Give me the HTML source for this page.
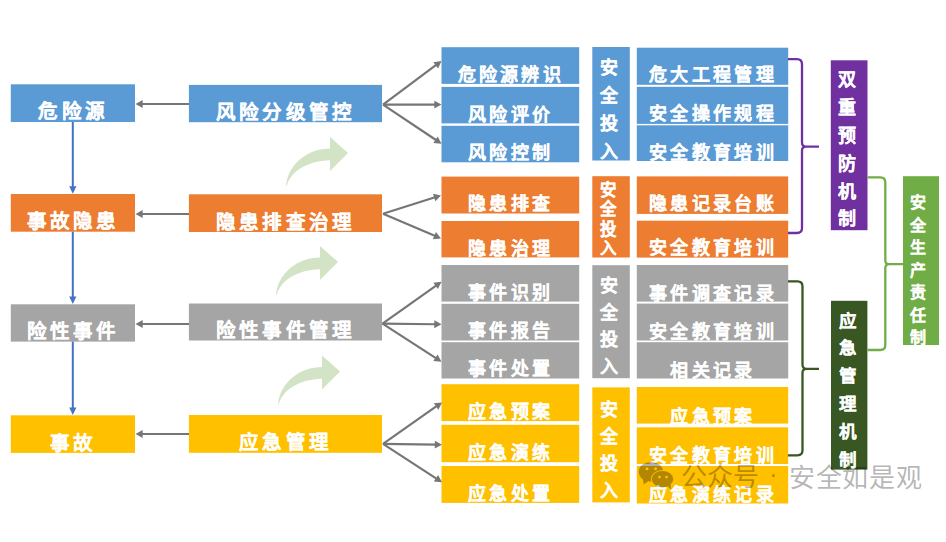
<!DOCTYPE html>
<html lang="zh-CN"><head><meta charset="utf-8"><title>diagram</title>
<style>
html,body{margin:0;padding:0;background:#fff}
body{width:946px;height:542px;position:relative;overflow:hidden;font-family:"Liberation Sans",sans-serif}
.t{position:absolute;width:600px;text-align:center;color:#fff;font-weight:bold;white-space:nowrap;line-height:1;-webkit-text-stroke:0.12px #fff}
.v{position:absolute;width:40px;text-align:center;color:#fff;font-weight:bold;-webkit-text-stroke:0.12px #fff}
.ov{position:absolute;left:0;top:0}
.wm{position:absolute;font-size:26px;line-height:1;color:rgba(0,0,0,0.3);white-space:nowrap}
</style></head><body>
<svg class="ov" width="946" height="542" viewBox="0 0 946 542">
<rect x="10.8" y="84.3" width="124.20" height="37.70" fill="#5b9bd5"/><rect x="10.8" y="194" width="124.20" height="37.70" fill="#ed7d31"/><rect x="10.8" y="304.3" width="124.20" height="37.30" fill="#a5a5a5"/><rect x="10.8" y="415.3" width="124.20" height="37.60" fill="#ffc000"/><rect x="188.9" y="84.9" width="193.10" height="37.30" fill="#5b9bd5"/><rect x="188.9" y="194.3" width="193.10" height="37.70" fill="#ed7d31"/><rect x="188.9" y="303.5" width="193.10" height="37.00" fill="#a5a5a5"/><rect x="188.9" y="415" width="193.10" height="37.80" fill="#ffc000"/><rect x="441.5" y="47.2" width="137.70" height="36.70" fill="#5b9bd5"/><rect x="441.5" y="86.9" width="137.70" height="36.50" fill="#5b9bd5"/><rect x="441.5" y="125.8" width="137.70" height="36.50" fill="#5b9bd5"/><rect x="441.5" y="176.6" width="137.70" height="36.90" fill="#ed7d31"/><rect x="441.5" y="221" width="137.70" height="36.40" fill="#ed7d31"/><rect x="441.5" y="265" width="137.70" height="36.60" fill="#a5a5a5"/><rect x="441.5" y="303.8" width="137.70" height="36.70" fill="#a5a5a5"/><rect x="441.5" y="342.2" width="137.70" height="36.30" fill="#a5a5a5"/><rect x="441.5" y="384.2" width="137.70" height="36.90" fill="#ffc000"/><rect x="441.5" y="424.8" width="137.70" height="37.40" fill="#ffc000"/><rect x="441.5" y="466" width="137.70" height="36.90" fill="#ffc000"/><rect x="592.3" y="47" width="37.50" height="113.50" fill="#5b9bd5"/><rect x="592.3" y="176.2" width="37.50" height="81.30" fill="#ed7d31"/><rect x="592.3" y="265.2" width="37.50" height="113.00" fill="#a5a5a5"/><rect x="592.3" y="387.4" width="37.50" height="115.00" fill="#ffc000"/><rect x="636.8" y="47.7" width="151.40" height="37.10" fill="#5b9bd5"/><rect x="636.8" y="86.8" width="151.40" height="37.10" fill="#5b9bd5"/><rect x="636.8" y="125.3" width="151.40" height="35.70" fill="#5b9bd5"/><rect x="636.8" y="176.4" width="151.40" height="37.50" fill="#ed7d31"/><rect x="636.8" y="220.7" width="151.40" height="36.90" fill="#ed7d31"/><rect x="636.8" y="265" width="151.40" height="36.60" fill="#a5a5a5"/><rect x="636.8" y="303.6" width="151.40" height="36.90" fill="#a5a5a5"/><rect x="636.8" y="342.2" width="151.40" height="36.30" fill="#a5a5a5"/><rect x="636.8" y="387" width="151.40" height="36.60" fill="#ffc000"/><rect x="636.8" y="427.3" width="151.40" height="36.70" fill="#ffc000"/><rect x="636.8" y="466" width="151.40" height="37.50" fill="#ffc000"/><rect x="830.8" y="60.3" width="36.70" height="169.90" fill="#7030a0"/><rect x="831" y="300.8" width="36.40" height="168.80" fill="#385723"/><rect x="903" y="176.2" width="36.00" height="168.80" fill="#70ad47"/>
<line x1="189" y1="104" x2="141.70" y2="104.00" stroke="#767676" stroke-width="2.2"/><polygon points="135.50,104.00 142.70,100.10 142.70,107.90" fill="#767676"/><line x1="189" y1="214" x2="141.70" y2="214.00" stroke="#767676" stroke-width="2.2"/><polygon points="135.50,214.00 142.70,210.10 142.70,217.90" fill="#767676"/><line x1="189" y1="324" x2="141.70" y2="324.00" stroke="#767676" stroke-width="2.2"/><polygon points="135.50,324.00 142.70,320.10 142.70,327.90" fill="#767676"/><line x1="189" y1="434" x2="141.70" y2="434.00" stroke="#767676" stroke-width="2.2"/><polygon points="135.50,434.00 142.70,430.10 142.70,437.90" fill="#767676"/><line x1="72.8" y1="122" x2="72.80" y2="187.30" stroke="#4472c4" stroke-width="2"/><polygon points="72.80,193.80 69.20,186.30 76.40,186.30" fill="#4472c4"/><line x1="72.8" y1="231.7" x2="72.80" y2="297.50" stroke="#4472c4" stroke-width="2"/><polygon points="72.80,304.00 69.20,296.50 76.40,296.50" fill="#4472c4"/><line x1="72.8" y1="341.6" x2="72.80" y2="408.50" stroke="#4472c4" stroke-width="2"/><polygon points="72.80,415.00 69.20,407.50 76.40,407.50" fill="#4472c4"/><line x1="383" y1="104.6" x2="436.53" y2="64.71" stroke="#767676" stroke-width="2.2"/><polygon points="441.50,61.00 438.06,68.43 433.40,62.18" fill="#767676"/><line x1="383" y1="104.6" x2="435.30" y2="104.60" stroke="#767676" stroke-width="2.2"/><polygon points="441.50,104.60 434.30,108.50 434.30,100.70" fill="#767676"/><line x1="383" y1="104.6" x2="436.35" y2="140.25" stroke="#767676" stroke-width="2.2"/><polygon points="441.50,143.70 433.35,142.94 437.68,136.46" fill="#767676"/><line x1="383" y1="213.8" x2="435.09" y2="197.27" stroke="#767676" stroke-width="2.2"/><polygon points="441.00,195.40 435.32,201.29 432.96,193.86" fill="#767676"/><line x1="383" y1="213.8" x2="435.30" y2="236.07" stroke="#767676" stroke-width="2.2"/><polygon points="441.00,238.50 432.85,239.27 435.90,232.09" fill="#767676"/><line x1="382.5" y1="323.7" x2="436.45" y2="285.30" stroke="#767676" stroke-width="2.2"/><polygon points="441.50,281.70 437.90,289.05 433.37,282.70" fill="#767676"/><line x1="382.5" y1="323.7" x2="435.30" y2="324.24" stroke="#767676" stroke-width="2.2"/><polygon points="441.50,324.30 434.26,328.13 434.34,320.33" fill="#767676"/><line x1="382.5" y1="323.7" x2="436.29" y2="358.34" stroke="#767676" stroke-width="2.2"/><polygon points="441.50,361.70 433.34,361.08 437.56,354.52" fill="#767676"/><line x1="383" y1="443.8" x2="436.92" y2="405.96" stroke="#767676" stroke-width="2.2"/><polygon points="442.00,402.40 438.35,409.73 433.87,403.34" fill="#767676"/><line x1="383" y1="443.8" x2="435.80" y2="444.69" stroke="#767676" stroke-width="2.2"/><polygon points="442.00,444.80 434.73,448.58 434.87,440.78" fill="#767676"/><line x1="383" y1="443.8" x2="436.80" y2="478.82" stroke="#767676" stroke-width="2.2"/><polygon points="442.00,482.20 433.84,481.54 438.09,475.00" fill="#767676"/><path transform="translate(286,186)" d="M0,0 C2,-22 22,-37.5 44,-37.5 L44,-49 L62,-33 L44,-15 L44,-25.7 C20,-25 5,-14 1,-1 Z" fill="#d3e3c6"/><path transform="translate(276,295)" d="M0,0 C2,-22 22,-37.5 44,-37.5 L44,-49 L62,-33 L44,-15 L44,-25.7 C20,-25 5,-14 1,-1 Z" fill="#d3e3c6"/><path transform="translate(278,404.4)" d="M0,0 C2,-22 22,-37.5 44,-37.5 L44,-49 L62,-33 L44,-15 L44,-25.7 C20,-25 5,-14 1,-1 Z" fill="#d3e3c6"/><path d="M788,59.2 L797,59.2 Q802,59.2 802,64.2 L802,142.6 Q802,146.6 806,146.6 L819,146.6 M806,146.6 Q802,146.6 802,150.6 L802,228 Q802,233 797,233 L788,233" fill="none" stroke="#7030a0" stroke-width="2.3"/><path d="M788,281.4 L797.5,281.4 Q802.5,281.4 802.5,286.4 L802.5,364.8 Q802.5,368.8 806.5,368.8 L819,368.8 M806.5,368.8 Q802.5,368.8 802.5,372.8 L802.5,450.3 Q802.5,455.3 797.5,455.3 L788,455.3" fill="none" stroke="#385723" stroke-width="2.3"/><path d="M867.5,177.4 L880.3,177.4 Q885.3,177.4 885.3,182.4 L885.3,260.2 Q885.3,264.2 889.3,264.2 L903,264.2 M889.3,264.2 Q885.3,264.2 885.3,268.2 L885.3,345 Q885.3,350 880.3,350 L867.5,350" fill="none" stroke="#70ad47" stroke-width="2.3"/>
</svg>
<div class="t" style="left:-230.00px;top:102.17px;font-size:19.5px;letter-spacing:3.2px;padding-left:3.2px">危险源</div><div class="t" style="left:-230.00px;top:212.17px;font-size:19.5px;letter-spacing:3.2px;padding-left:3.2px">事故隐患</div><div class="t" style="left:-230.00px;top:322.17px;font-size:19.5px;letter-spacing:3.2px;padding-left:3.2px">险性事件</div><div class="t" style="left:-230.00px;top:433.67px;font-size:19.5px;letter-spacing:3.2px;padding-left:3.2px">事故</div><div class="t" style="left:-17.50px;top:103.37px;font-size:19.5px;letter-spacing:3.2px;padding-left:3.2px">风险分级管控</div><div class="t" style="left:-17.50px;top:212.77px;font-size:19.5px;letter-spacing:3.2px;padding-left:3.2px">隐患排查治理</div><div class="t" style="left:-17.50px;top:321.07px;font-size:19.5px;letter-spacing:3.2px;padding-left:3.2px">险性事件管理</div><div class="t" style="left:-17.50px;top:432.77px;font-size:19.5px;letter-spacing:3.2px;padding-left:3.2px">应急管理</div><div class="t" style="left:207.50px;top:66.28px;font-size:18px;letter-spacing:3.3px;padding-left:3.3px">危险源辨识</div><div class="t" style="left:207.50px;top:105.88px;font-size:18px;letter-spacing:3.3px;padding-left:3.3px">风险评价</div><div class="t" style="left:207.50px;top:144.08px;font-size:18px;letter-spacing:3.3px;padding-left:3.3px">风险控制</div><div class="t" style="left:207.50px;top:195.08px;font-size:18px;letter-spacing:3.3px;padding-left:3.3px">隐患排查</div><div class="t" style="left:207.50px;top:239.68px;font-size:18px;letter-spacing:3.3px;padding-left:3.3px">隐患治理</div><div class="t" style="left:207.50px;top:284.08px;font-size:18px;letter-spacing:3.3px;padding-left:3.3px">事件识别</div><div class="t" style="left:207.50px;top:322.08px;font-size:18px;letter-spacing:3.3px;padding-left:3.3px">事件报告</div><div class="t" style="left:207.50px;top:360.38px;font-size:18px;letter-spacing:3.3px;padding-left:3.3px">事件处置</div><div class="t" style="left:207.50px;top:402.98px;font-size:18px;letter-spacing:3.3px;padding-left:3.3px">应急预案</div><div class="t" style="left:207.50px;top:444.28px;font-size:18px;letter-spacing:3.3px;padding-left:3.3px">应急演练</div><div class="t" style="left:207.50px;top:485.08px;font-size:18px;letter-spacing:3.3px;padding-left:3.3px">应急处置</div><div class="v" style="left:588.80px;top:53.78px;font-size:18px;line-height:28px">安<br>全<br>投<br>入</div><div class="v" style="left:588.80px;top:181.24px;font-size:16.5px;line-height:19.2px">安<br>全<br>投<br>入</div><div class="v" style="left:588.80px;top:272.98px;font-size:18px;line-height:27px">安<br>全<br>投<br>入</div><div class="v" style="left:588.80px;top:397.48px;font-size:18px;line-height:27px">安<br>全<br>投<br>入</div><div class="t" style="left:409.70px;top:66.28px;font-size:18px;letter-spacing:3.3px;padding-left:3.3px">危大工程管理</div><div class="t" style="left:409.70px;top:104.58px;font-size:18px;letter-spacing:3.3px;padding-left:3.3px">安全操作规程</div><div class="t" style="left:409.70px;top:144.08px;font-size:18px;letter-spacing:3.3px;padding-left:3.3px">安全教育培训</div><div class="t" style="left:409.70px;top:194.58px;font-size:18px;letter-spacing:3.3px;padding-left:3.3px">隐患记录台账</div><div class="t" style="left:409.70px;top:239.28px;font-size:18px;letter-spacing:3.3px;padding-left:3.3px">安全教育培训</div><div class="t" style="left:409.70px;top:285.48px;font-size:18px;letter-spacing:3.3px;padding-left:3.3px">事件调查记录</div><div class="t" style="left:409.70px;top:323.38px;font-size:18px;letter-spacing:3.3px;padding-left:3.3px">安全教育培训</div><div class="t" style="left:409.70px;top:361.98px;font-size:18px;letter-spacing:3.3px;padding-left:3.3px">相关记录</div><div class="t" style="left:409.70px;top:407.98px;font-size:18px;letter-spacing:3.3px;padding-left:3.3px">应急预案</div><div class="t" style="left:409.70px;top:447.08px;font-size:18px;letter-spacing:3.3px;padding-left:3.3px">安全教育培训</div><div class="t" style="left:409.70px;top:486.08px;font-size:18px;letter-spacing:3.3px;padding-left:3.3px">应急演练记录</div><div class="v" style="left:827.30px;top:67.38px;font-size:18px;line-height:27.8px">双<br>重<br>预<br>防<br>机<br>制</div><div class="v" style="left:827.50px;top:307.55px;font-size:17.5px;line-height:27.9px">应<br>急<br>管<br>理<br>机<br>制</div><div class="v" style="left:898.30px;top:192.21px;font-size:16px;line-height:22.5px">安<br>全<br>生<br>产<br>责<br>任<br>制</div>
<svg class="ov" width="946" height="542" viewBox="0 0 946 542"><defs><mask id="wmk" maskUnits="userSpaceOnUse" x="600" y="440" width="120" height="70">
<ellipse cx="650.9" cy="471.8" rx="12.2" ry="9.8" fill="#fff"/>
<polygon points="642.5,477 643.8,484.5 649,480.5" fill="#fff"/>
<ellipse cx="662.5" cy="479.2" rx="11.6" ry="9.2" fill="#000"/>
<ellipse cx="662.5" cy="479.2" rx="10.7" ry="8.3" fill="#fff"/>
<polygon points="666.5,485 671.2,489.8 670.5,483.5" fill="#fff"/>
<circle cx="647" cy="468.7" r="1.5" fill="#000"/><circle cx="655.5" cy="468.7" r="1.5" fill="#000"/>
<circle cx="659.5" cy="477.1" r="1.4" fill="#000"/><circle cx="666.5" cy="477.1" r="1.4" fill="#000"/>
</mask></defs>
<rect x="600" y="440" width="120" height="70" fill="rgba(0,0,0,0.3)" mask="url(#wmk)"/></svg>
<div class="wm" style="left:681px;top:463.5px">公众号</div><div class="wm" style="left:769px;top:461px">·</div><div class="wm" style="left:789px;top:464.5px;letter-spacing:0.7px">安全如是观</div>
</body></html>
